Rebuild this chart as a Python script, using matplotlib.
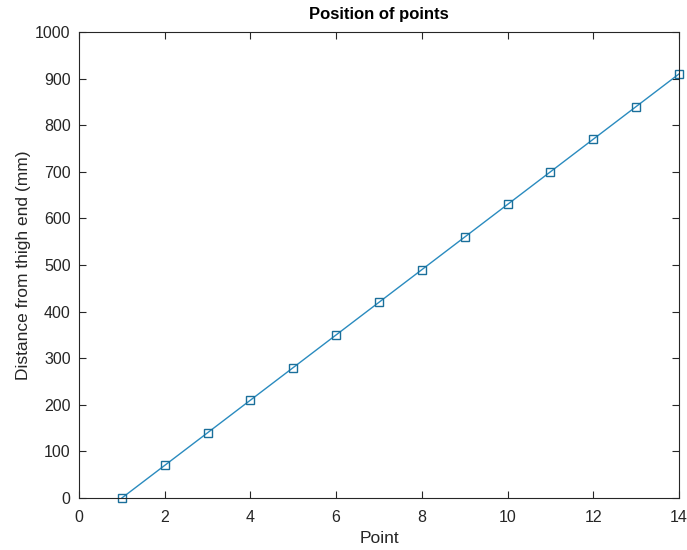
import matplotlib
matplotlib.use("Agg")
import matplotlib.pyplot as plt

points = [1, 2, 3, 4, 5, 6, 7, 8, 9, 10, 11, 12, 13, 14]
distance = [0, 70, 140, 210, 280, 350, 420, 490, 560, 630, 700, 770, 840, 910]

plt.rcParams['font.family'] = ['Liberation Sans', 'DejaVu Sans']

fig = plt.figure(figsize=(6.87, 5.5), dpi=100)
ax = fig.add_axes([79 / 687, 1 - 498 / 550, 600 / 687, 466 / 550])

ax.plot(points, distance, color="#2a8bbf", linewidth=1.0, marker="s",
        markersize=6, markerfacecolor="none", markeredgecolor="#1a6f9a",
        markeredgewidth=1.0, clip_on=False)

ax.set_xlim(0, 14)
ax.set_ylim(0, 1000)
ax.set_xticks(range(0, 15, 2))
ax.set_yticks(range(0, 1001, 100))
ax.tick_params(direction="in", top=True, right=True, labelsize=11.5,
               colors="#262626", length=5, width=0.8)
ax.tick_params(axis="x", pad=9)
ax.tick_params(axis="y", pad=6)
for s in ax.spines.values():
    s.set_color("#262626")
    s.set_linewidth(0.8)

ax.set_xlabel("Point", fontsize=12.5, color="#262626", labelpad=4)
ax.set_ylabel("Distance from thigh end (mm)", fontsize=12.5, color="#262626", labelpad=3)
ax.set_title("Position of points", fontsize=12, fontweight="bold", color="black", pad=9)

plt.savefig("out.png", dpi=100)
plt.close()
